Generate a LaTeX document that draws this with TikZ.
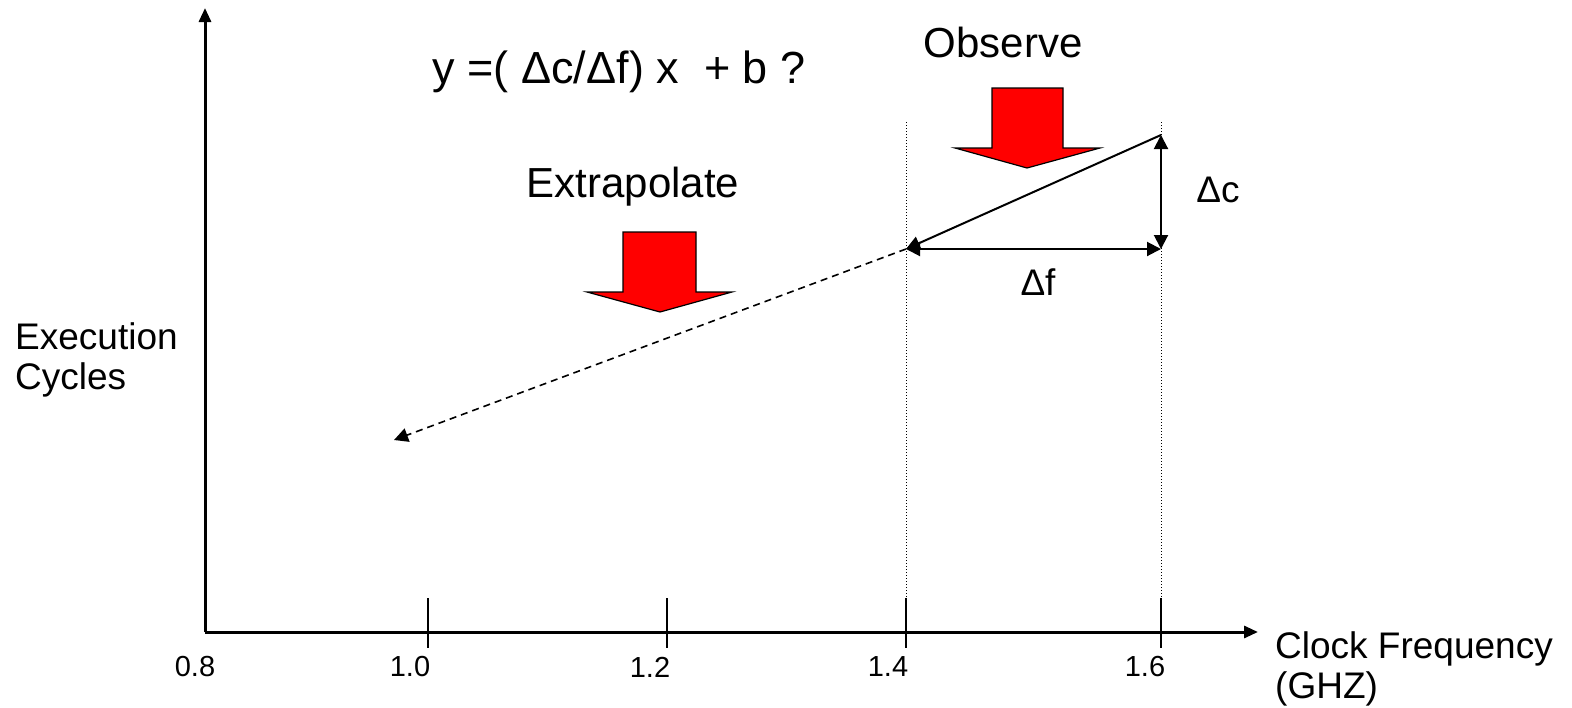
\documentclass[tikz,border=0pt]{standalone}
\usepackage{fontspec}
\setmainfont{Liberation Sans}
\usetikzlibrary{arrows.meta}
\begin{document}
\begin{tikzpicture}[x=1pt,y=-1pt,
  axis/.style={line width=3pt,-{Triangle[length=14pt,width=12pt]}},
  tickmark/.style={line width=2pt},
  guide/.style={line width=1pt,dotted},
  slope/.style={line width=2pt},
  endtip/.style={-{Triangle[length=14pt,width=14pt]}},
  bothtip/.style={{Triangle[length=14pt,width=14pt]}-{Triangle[length=14pt,width=14pt]}},
  bigarrow/.style={fill=red,draw=black,line width=1.2pt,line join=miter},
  lbl/.style={font=\fontsize{37}{40}\selectfont,inner sep=0pt},
  ticklbl/.style={font=\fontsize{29}{34}\selectfont,inner sep=0pt}]
\useasboundingbox (0,0) rectangle (1572,707);
% axes
\coordinate (O) at (205,632);
\coordinate (ytop) at (205,8);
\coordinate (xend) at (1258,632);
\draw[axis] (O) -- (ytop);
\draw[axis] (O) -- (xend);
% ticks
\foreach \n/\x in {a/428,b/667,c/906,d/1161}{
  \coordinate (t\n1) at (\x,598);
  \coordinate (t\n2) at (\x,648);
  \draw[tickmark] (t\n1) -- (t\n2);
}
\node[ticklbl] (l08) at (195,667) {0.8};
\node[ticklbl] (l10) at (410,667) {1.0};
\node[ticklbl] (l12) at (650,667) {1.2};
\node[ticklbl] (l14) at (888,667) {1.4};
\node[ticklbl] (l16) at (1145,667) {1.6};
% guides
\coordinate (g1t) at (906,122);
\coordinate (g1b) at (906,632);
\coordinate (g2t) at (1161,122);
\coordinate (g2b) at (1161,632);
\draw[guide] (g1t) -- (g1b);
\draw[guide] (g2t) -- (g2b);
% slope triangle
\coordinate (P14) at (906,249);
\coordinate (P16t) at (1161,135);
\coordinate (P16) at (1161,249);
\coordinate (ext) at (394,440);
\draw[slope,endtip] (P16t) -- (P14);
\draw[slope,bothtip] (P16t) -- (P16);
\draw[slope,bothtip] (P14) -- (P16);
\draw[line width=1.6pt,dash pattern=on 7pt off 5pt,endtip] (P14) -- (ext);
% red arrows
\draw[bigarrow] (992,88) -- (1063,88) -- (1063,148) -- (1100,148) -- (1027,168)
  -- (955,148) -- (992,148) -- cycle;
\draw[bigarrow] (623,232) -- (696,232) -- (696,292) -- (732,292) -- (660,312)
  -- (587,292) -- (623,292) -- cycle;
% labels
\node[lbl,font=\fontsize{42}{50}\selectfont] (obs) at (1003,42) {Observe};
\node[lbl,font=\fontsize{42}{50}\selectfont] (extr) at (633,187) {Extrapolate};
\node[lbl,font=\fontsize{45}{54}\selectfont] (eq) at (619,72) {y =( Δc/Δf) x \ + b ?};
\node[lbl] (dc) at (1218,190) {Δc};
\node[lbl] (df) at (1038,282) {Δf};
\node[lbl,align=left,anchor=west] (yl) at (15,360) {Execution\\Cycles};
\node[lbl,align=left,anchor=west] (xl) at (1275,669) {Clock Frequency\\(GHZ)};
\end{tikzpicture}
\end{document}
